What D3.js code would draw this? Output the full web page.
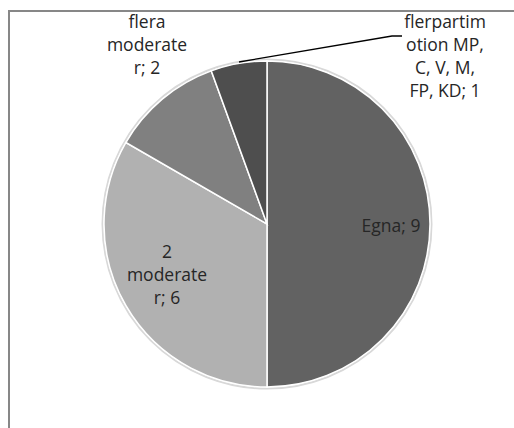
<!DOCTYPE html>
<html>
<head>
<meta charset="utf-8">
<script src="https://cdn.jsdelivr.net/npm/d3@7"></script>
<style>
  body { margin: 0; background: #fff; }
  text { font-family: "Open Sans", Lato, sans-serif; font-size: 17.5px; fill: #262626; }
</style>
</head>
<body>
<svg id="chart" width="514" height="428"></svg>
<script>
'use strict';
// slices, clockwise from 12 o'clock
let categories = ["Egna", "2 moderater", "flera moderater", "flerpartimotion MP, C, V, M, FP, KD"];
let values = [9, 6, 2, 1];
let colors = ["#626262", "#b1b1b1", "#808080", "#4e4e4e"];
// label lines as wrapped in the picture
let labelLines = [
    ["Egna; 9"],
    ["2", "moderate", "r; 6"],
    ["flera", "moderate", "r; 2"],
    ["flerpartim", "otion MP,", "C, V, M,", "FP, KD; 1"]
];

let svg = d3.select("#chart"),
    cx = 267, cy = 224, radius = 163;

// frame (right and bottom edges fall outside the picture)
svg.append("rect")
    .attr("x", 9).attr("y", 11)
    .attr("width", 520).attr("height", 430)
    .attr("fill", "none")
    .attr("stroke", "#878787")
    .attr("stroke-width", 2);

let data = categories.map((c, i) => ({name: c, value: values[i], color: colors[i], lines: labelLines[i]}));

let pie = d3.pie().sort(null).value(d => d.value);
let arc = d3.arc().innerRadius(0).outerRadius(radius);
let arcs = pie(data);

let g = svg.append("g").attr("transform", "translate(" + cx + "," + cy + ")");

// soft shadow ring
g.append("circle")
    .attr("r", radius + 1.5)
    .attr("fill", "none")
    .attr("stroke", "#d8d8d8")
    .attr("stroke-width", 2);

g.selectAll("path.slice")
    .data(arcs)
    .enter().append("path")
    .attr("class", "slice")
    .attr("d", arc)
    .attr("fill", d => d.data.color)
    .attr("stroke", "#fff")
    .attr("stroke-width", 1.5);

// label positions (relative to centre)
let labelPos = [
    {x: 124, y: 2},
    {x: -100, y: 28},
    {x: -120, y: -202},
    {x: 178, y: -202}
];
let lineH = 23;

let labels = g.selectAll("text.lbl")
    .data(arcs)
    .enter().append("text")
    .attr("class", "lbl")
    .attr("text-anchor", "middle")
    .attr("transform", (d, i) => "translate(" + labelPos[i].x + "," + labelPos[i].y + ")");

labels.selectAll("tspan")
    .data(d => d.data.lines)
    .enter().append("tspan")
    .attr("x", 0)
    .attr("y", (d, i) => i * lineH)
    .attr("dy", "0.35em")
    .text(d => d);

// leader line for the small slice
g.append("polyline")
    .attr("points", [[-28, -162], [125, -188], [135, -188]].map(p => p.join(",")).join(" "))
    .attr("fill", "none")
    .attr("stroke", "#000")
    .attr("stroke-width", 1.3);
</script>
</body>
</html>
